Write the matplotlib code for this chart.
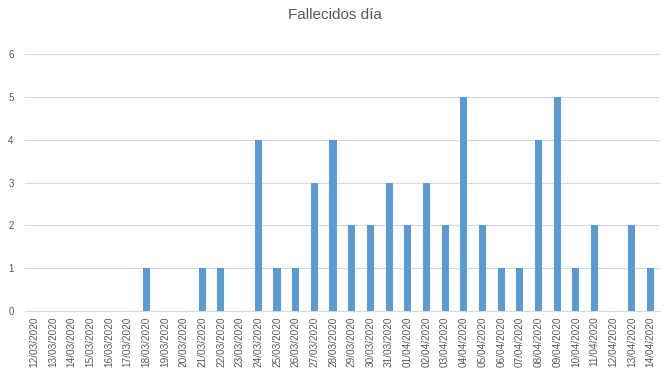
from matplotlib import pyplot as plt

fechas = ['12/03/2020', '13/03/2020', '14/03/2020', '15/03/2020', '16/03/2020',
          '17/03/2020', '18/03/2020', '19/03/2020', '20/03/2020', '21/03/2020',
          '22/03/2020', '23/03/2020', '24/03/2020', '25/03/2020', '26/03/2020',
          '27/03/2020', '28/03/2020', '29/03/2020', '30/03/2020', '31/03/2020',
          '01/04/2020', '02/04/2020', '03/04/2020', '04/04/2020', '05/04/2020',
          '06/04/2020', '07/04/2020', '08/04/2020', '09/04/2020', '10/04/2020',
          '11/04/2020', '12/04/2020', '13/04/2020', '14/04/2020']
fallecidos = [0, 0, 0, 0, 0, 0, 1, 0, 0, 1, 1, 0, 4, 1, 1, 3, 4, 2, 2, 3,
              2, 3, 2, 5, 2, 1, 1, 4, 5, 1, 2, 0, 2, 1]
y_ticks = [0, 1, 2, 3, 4, 5, 6]

plt.rcParams['font.family'] = ['Liberation Sans', 'DejaVu Sans']

fig = plt.figure(figsize=(6.7, 3.78), dpi=100)
ax = fig.add_axes([0.037, 0.177, 0.948, 0.68])

x = range(len(fechas))
ax.bar(x, fallecidos, width=0.38, color='#5B9BD5', zorder=3)

ax.set_xlim(-0.5, len(fechas) - 0.5)
ax.set_ylim(0, 6)
ax.set_yticks(y_ticks)
ax.set_xticks(list(x))
ax.set_xticklabels(fechas, rotation=90, fontsize=7.2, color='#595959')
ax.tick_params(axis='y', labelsize=7, colors='#595959', length=0, pad=8)
ax.tick_params(axis='x', length=0, pad=4)
ax.grid(axis='y', color='#d9d9d9', linewidth=0.8, zorder=0)

for s in ['top', 'right', 'left']:
    ax.spines[s].set_visible(False)
ax.spines['bottom'].set_color('#d9d9d9')
ax.spines['bottom'].set_linewidth(0.8)

fig.text(0.5, 0.98, 'Fallecidos día', ha='center', va='top',
         fontsize=11, color='#595959')

plt.savefig('out.png')
plt.close()
